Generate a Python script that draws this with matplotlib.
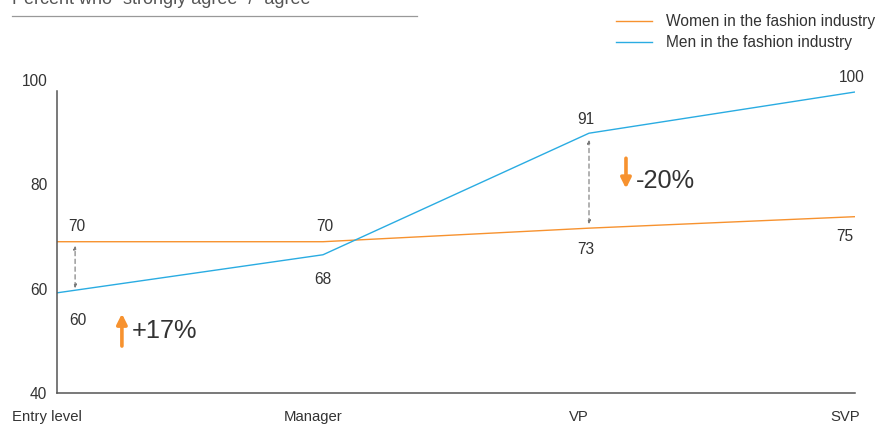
import matplotlib.pyplot as plt
import matplotlib.transforms as mtransforms
from matplotlib.lines import Line2D

plt.rcParams['font.family'] = ['Liberation Sans', 'DejaVu Sans']

# data
levels = ['Entry level', 'Manager', 'VP', 'SVP']
women = [69.0, 69.0, 71.6, 73.8]
men = [59.2, 66.5, 89.8, 97.7]
women_labels = ['70', '70', '73', '75']
men_labels = ['60', '68', '91', '100']
yticks = [40, 60, 80, 100]

orange = '#F7922F'
blue = '#2AACE2'
txt = '#333333'

fig = plt.figure(figsize=(8.82, 4.25), dpi=100)
ax = fig.add_axes([57 / 882, 32 / 425, 798 / 882, 313 / 425])

x = list(range(len(levels)))
ax.plot(x, women, color=orange, lw=1.0, solid_capstyle='butt')
ax.plot(x, men, color=blue, lw=1.0, solid_capstyle='butt')

ax.set_xlim(0, 3)
ax.set_ylim(40, 100)
for s in ['top', 'right']:
    ax.spines[s].set_visible(False)
for s in ['left', 'bottom']:
    ax.spines[s].set_color('#555555')
    ax.spines[s].set_linewidth(1.1)
ax.spines['left'].set_bounds(40, 97.9)

ax.set_yticks(yticks)
ax.set_yticklabels([str(v) for v in yticks], fontsize=11.2, color=txt)
ax.set_xticks(x)
ax.set_xticklabels(levels, fontsize=10.7, color=txt)
ax.tick_params(length=0)
ax.tick_params(axis='y', pad=7)
ax.tick_params(axis='x', pad=12)
# x labels sit slightly left of the points in the reference
shift = mtransforms.ScaledTranslation(-10 / 100, 0, fig.dpi_scale_trans)
for lab in ax.get_xticklabels():
    lab.set_transform(lab.get_transform() + shift)

# value labels (offsets in px)
w_off = [(20, 15), (2, 15), (-3, -21), (-10, -20)]
m_off = [(21, -28), (0, -25), (-3, 14), (-3, 14)]
pt = 72 / 100
for i in x:
    ax.annotate(women_labels[i], (i, women[i]), xytext=(w_off[i][0] * pt, w_off[i][1] * pt),
                textcoords='offset points', ha='center', va='center', fontsize=11.2, color=txt)
    ax.annotate(men_labels[i], (i, men[i]), xytext=(m_off[i][0] * pt, m_off[i][1] * pt),
                textcoords='offset points', ha='center', va='center', fontsize=11.2, color=txt)

# dashed gap arrows
gap_style = dict(arrowstyle='<|-|>', color='#777777', lw=0.8, linestyle=(0, (4, 3)),
                 mutation_scale=5, shrinkA=0, shrinkB=0)
ax.annotate('', xy=(0.068, 68.2), xytext=(0.068, 60.1), arrowprops=gap_style)
ax.annotate('', xy=(2.0, 88.5), xytext=(2.0, 72.4), arrowprops=gap_style)

# orange change arrows
big = dict(arrowstyle='-|>', color=orange, lw=2.6, mutation_scale=15, shrinkA=0, shrinkB=0)
ax.annotate('', xy=(0.244, 55.2), xytext=(0.244, 49.0), arrowprops=big)
ax.text(0.282, 51.9, '+17%', fontsize=18.3, color=txt, va='center', ha='left')
ax.annotate('', xy=(2.139, 79.2), xytext=(2.139, 85.0), arrowprops=big)
ax.text(2.177, 80.6, '-20%', fontsize=18.3, color=txt, va='center', ha='left')

# header text and rule
fig.text(12 / 882, 1 - 4 / 425, 'Percent who \u201cstrongly agree\u201d / \u201cagree\u201d',
         fontsize=13, color='#555555', va='baseline', ha='left')
fig.add_artist(Line2D([12 / 882, 417 / 882], [1 - 16 / 425, 1 - 16 / 425],
                      color='#999999', lw=0.9, transform=fig.transFigure))

# legend
handles = [Line2D([], [], color=orange, lw=1.0), Line2D([], [], color=blue, lw=1.0)]
fig.legend(handles, ['Women in the fashion industry', 'Men in the fashion industry'],
           loc='upper left', bbox_to_anchor=(610 / 882, 1 - 8 / 425), frameon=False,
           fontsize=11.2, handlelength=2.3, handletextpad=0.9, labelspacing=0.4,
           labelcolor=txt, borderaxespad=0)

fig.savefig('out.png', dpi=100)
